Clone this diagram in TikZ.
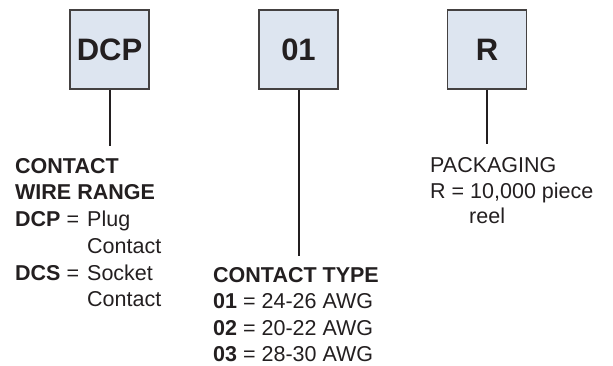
\documentclass[tikz,border=0pt]{standalone}
\usepackage{fontspec}
\setmainfont{Liberation Sans}
\usetikzlibrary{positioning}
\definecolor{boxfill}{HTML}{DDE5F0}
\definecolor{ink}{HTML}{231F20}
\newcommand{\legendlines}[1]{\vtop{\halign{##\hfil\cr#1\crcr}}}

\begin{document}
\begin{tikzpicture}[x=1pt,y=-1pt,
    code/.style={draw=ink!85, line width=1.2pt, fill=boxfill, minimum size=79pt,
        inner sep=0pt, text=ink, font=\fontsize{31}{31}\selectfont\bfseries},
    legend/.style={anchor=base west, inner sep=0pt, text=ink,
        font=\fontsize{21.5}{26.7}\selectfont},
    stem/.style={draw=ink, line width=2pt}]
    % 
    \useasboundingbox (0,0) rectangle (613,366);

    % 
    \node[code] (dcp) at (109.5,49.5) {DCP};
    \node[code] (type) at (298.5,49.5) {01};
    \node[code] (pack) at (487,49.5) {R};

    % 
    \coordinate[below=56pt of dcp.south] (dcpend);
    \coordinate[below=166pt of type.south] (typeend);
    \coordinate[below=54pt of pack.south] (packend);
    \draw[stem] (dcp.south) -- (dcpend);
    \draw[stem] (type.south) -- (typeend);
    \draw[stem] (pack.south) -- (packend);

    % 
    \node[legend] (rangetxt) at (15,173.3) {\legendlines{
        \bfseries CONTACT\cr
        \bfseries WIRE RANGE\cr
        \makebox[72pt][l]{\bfseries DCP\mdseries\ =}Plug\cr
        \hspace*{72pt}Contact\cr
        \makebox[72pt][l]{\bfseries DCS\mdseries\ =}Socket\cr
        \hspace*{72pt}Contact}};

    \node[legend, font=\fontsize{21.5}{26.3}\selectfont] (typetxt) at (213,282.5) {\legendlines{
        \bfseries CONTACT TYPE\cr
        \textbf{01} = 24-26 AWG\cr
        \textbf{02} = 20-22 AWG\cr
        \textbf{03} = 28-30 AWG}};

    \node[legend, font=\fontsize{21.5}{25.5}\selectfont] (packtxt) at (430,172.7) {\legendlines{
        PACKAGING\cr
        R = 10,000 piece\cr
        \hspace*{39pt}reel}};
\end{tikzpicture}
\end{document}
